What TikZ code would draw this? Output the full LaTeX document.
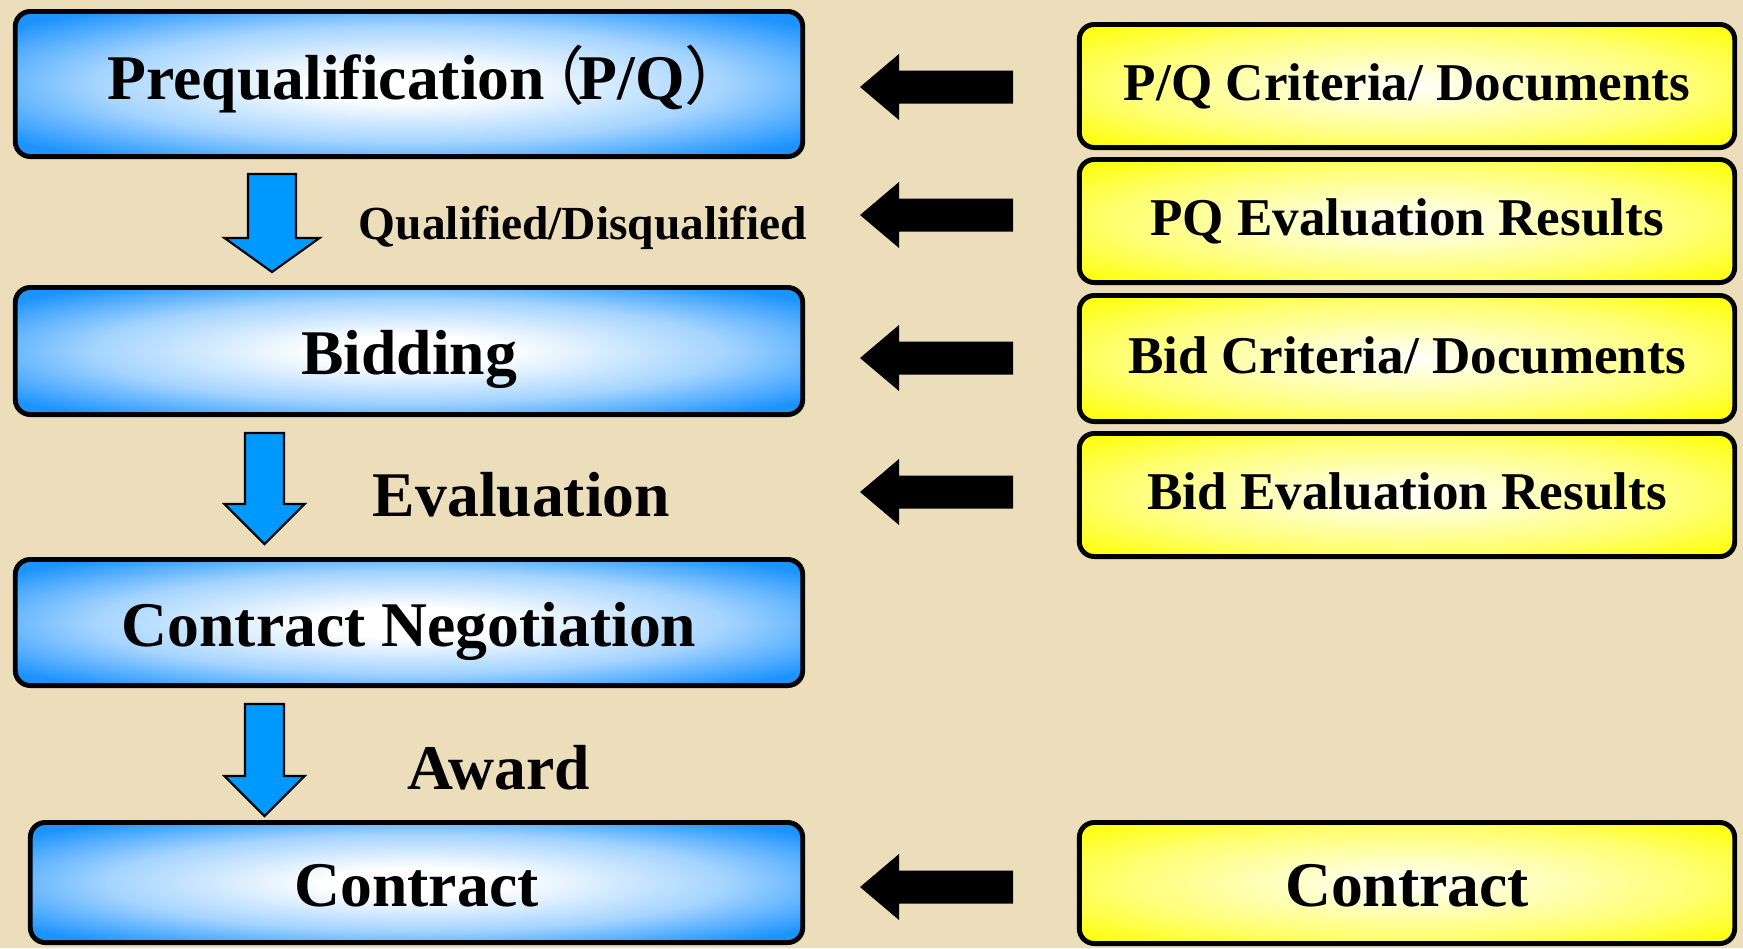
\documentclass[tikz,border=0pt]{standalone}
\usepackage{fontspec}
\setmainfont{Liberation Serif}
\newfontfamily\cjk{Noto Sans CJK SC}
\usepackage{tikz}
\usetikzlibrary{calc}

\definecolor{boxblue}{RGB}{28,147,255}
\definecolor{arrowblue}{RGB}{0,153,255}
\definecolor{boxyellow}{RGB}{255,255,0}
\definecolor{paper}{RGB}{236,222,186}

% glow shadings for the boxes
\pgfdeclareradialshading{bluefade}{\pgfpoint{0bp}{0bp}}{color(0bp)=(white); color(6bp)=(white); color(20bp)=(boxblue!40!white); color(32bp)=(boxblue); color(50bp)=(boxblue)}
\pgfdeclareradialshading{yellowfade}{\pgfpoint{0bp}{0bp}}{color(0bp)=(white); color(6bp)=(boxyellow!15!white); color(22bp)=(boxyellow!55!white); color(35bp)=(boxyellow); color(50bp)=(boxyellow)}

\newcommand{\stagefont}{\fontsize{18.1pt}{21pt}\selectfont\bfseries}
\newcommand{\docfont}{\fontsize{15.1pt}{18pt}\selectfont\bfseries}
\newcommand{\notefont}{\fontsize{13.5pt}{16pt}\selectfont\bfseries}

\tikzset{
  stagebox/.style={draw, line width=1.4pt, rounded corners=0.15cm, shade, shading=bluefade, minimum width=7.87cm, font=\stagefont, inner sep=0pt, text height=0.478cm, text depth=0pt},
  docbox/.style={draw, line width=1.4pt, rounded corners=0.15cm, shade, shading=yellowfade, minimum width=6.55cm, font=\docfont, inner sep=0pt, text height=0.29cm, text depth=0pt},
  notelabel/.style={font=\stagefont, anchor=base, inner sep=0pt},
  flowarrow/.style={fill=arrowblue, draw=black, line width=0.6pt, line join=miter},
  feedarrow/.style={fill=black}
}

\begin{document}
\begin{tikzpicture}[x=0.01cm, y=-0.01cm]
  % Paper background
  \fill[paper] (0,0) rectangle (1743,948);
  \useasboundingbox (0,0) rectangle (1743,948);

  % Stages (left column)
  \node[stagebox, minimum height=1.45cm, text depth=0.178cm] (pq) at (409,84) {Prequalification\kern-0.37em{\cjk\mdseries （}\kern-0.1em P/Q{\cjk\mdseries ）}\kern-0.6em};
  \node[stagebox, minimum height=1.27cm] (bid) at (409,351) {Bidding};
  \node[stagebox, minimum height=1.26cm] (neg) at (409,622.5) {Contract Negotiation};
  \node[stagebox, minimum height=1.20cm, minimum width=7.72cm] (con) at (416.5,882.5) {Contract};

  % Documents (right column)
  \node[docbox, minimum height=1.23cm] (pqdoc) at (1407,86) {P/Q Criteria/ Documents};
  \node[docbox, minimum height=1.23cm] (pqres) at (1407,221) {PQ Evaluation Results};
  \node[docbox, minimum height=1.26cm] (biddoc) at (1407,358.5) {Bid Criteria/ Documents};
  \node[docbox, minimum height=1.23cm] (bidres) at (1407,495) {Bid Evaluation Results};
  \node[docbox, minimum height=1.21cm, font=\stagefont, text height=0.478cm] (condoc) at (1407,883) {Contract};

  % Down arrows between the stages
  \foreach \cx/\ytop/\ybase/\ytip/\sw/\hw in {272/174/238/272/24/47.5, 264.5/433/504/544/19.5/40, 264.5/704/776/816/19.5/40}
    \filldraw[flowarrow] (\cx-\sw,\ytop) -- (\cx+\sw,\ytop) -- (\cx+\sw,\ybase) -- (\cx+\hw,\ybase)
      -- (\cx,\ytip) -- (\cx-\hw,\ybase) -- (\cx-\sw,\ybase) -- cycle;

  % Step labels
  \node[notelabel, font=\notefont] (qual) at (583,239) {Qualified/Disqualified};
  \node[notelabel] (eval) at (521.5,516) {Evaluation};
  \node[notelabel] (award) at (499,789) {Award};

  % Black arrows from the documents
  \foreach \cy in {87,215,358,492,887}
    \fill[feedarrow] (860,\cy) -- (899,\cy-33) -- (899,\cy-16.5) -- (1013,\cy-16.5)
      -- (1013,\cy+16.5) -- (899,\cy+16.5) -- (899,\cy+33) -- cycle;

\end{tikzpicture}
\end{document}
